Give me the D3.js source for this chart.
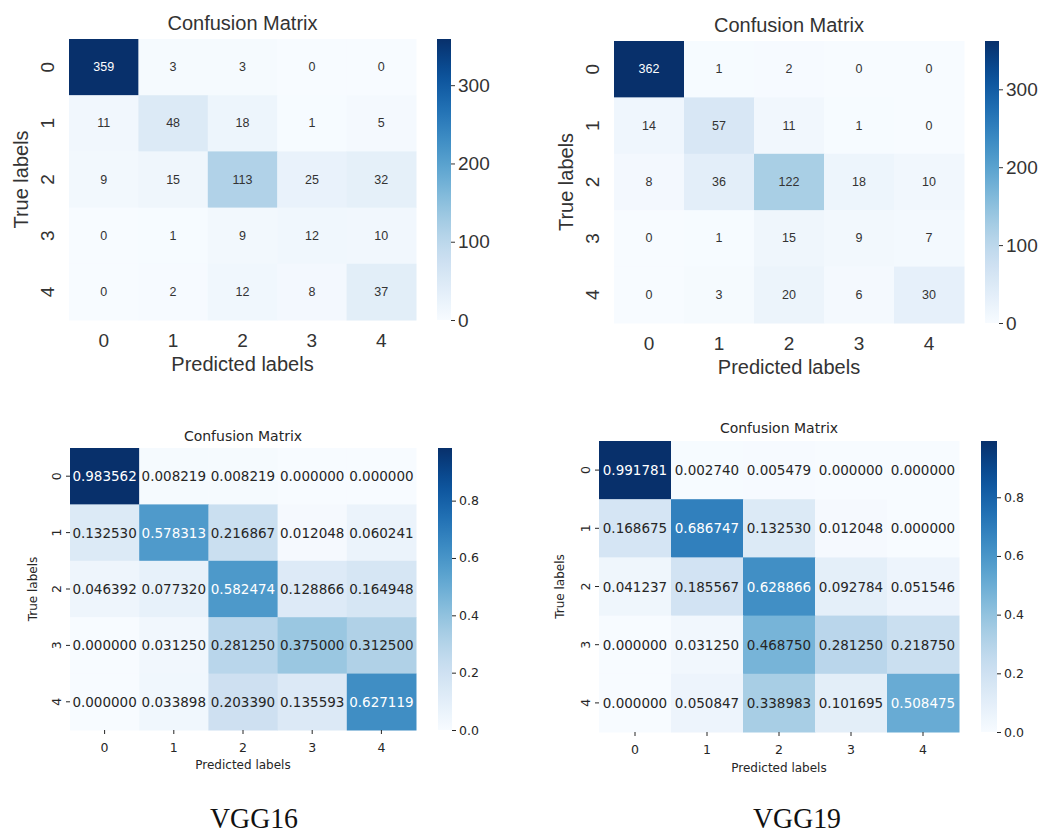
<!DOCTYPE html>
<html>
<head>
<meta charset="utf-8">
<script src="https://cdn.jsdelivr.net/npm/d3@7"></script>
<style>
  body { margin: 0; background: #fff; }
  svg { display: block; }
</style>
</head>
<body>
<div id="chart"></div>
<script>
// Data
const classLabels = ['0', '1', '2', '3', '4'];

const vgg16Counts = [
  [359, 3, 3, 0, 0],
  [11, 48, 18, 1, 5],
  [9, 15, 113, 25, 32],
  [0, 1, 9, 12, 10],
  [0, 2, 12, 8, 37]
];

const vgg19Counts = [
  [362, 1, 2, 0, 0],
  [14, 57, 11, 1, 0],
  [8, 36, 122, 18, 10],
  [0, 1, 15, 9, 7],
  [0, 3, 20, 6, 30]
];

const vgg16Norm = [
  [0.983562, 0.008219, 0.008219, 0.000000, 0.000000],
  [0.132530, 0.578313, 0.216867, 0.012048, 0.060241],
  [0.046392, 0.077320, 0.582474, 0.128866, 0.164948],
  [0.000000, 0.031250, 0.281250, 0.375000, 0.312500],
  [0.000000, 0.033898, 0.203390, 0.135593, 0.627119]
];

const vgg19Norm = [
  [0.991781, 0.002740, 0.005479, 0.000000, 0.000000],
  [0.168675, 0.686747, 0.132530, 0.012048, 0.000000],
  [0.041237, 0.185567, 0.628866, 0.092784, 0.051546],
  [0.000000, 0.031250, 0.468750, 0.281250, 0.218750],
  [0.000000, 0.050847, 0.338983, 0.101695, 0.508475]
];

const countTicks = [0, 100, 200, 300];
const normTicks = [0.0, 0.2, 0.4, 0.6, 0.8];
const captions = ['VGG16', 'VGG19'];

// Layout / style for each panel
const countStyle = {
  font: 'Liberation Sans, Arial, sans-serif',
  textColor: '#333',
  titleSize: 20, labelSize: 20, tickSize: 19, cbTickSize: 19, annotSize: 12.5,
  showAxisTicks: false, fmt: d3.format('d'), cbFmt: d3.format('d')
};
const normStyle = {
  font: 'DejaVu Sans, sans-serif',
  textColor: '#262626',
  titleSize: 14, labelSize: 12, tickSize: 12.5, cbTickSize: 12.5, annotSize: 13.5,
  showAxisTicks: true, fmt: d3.format('.6f'), cbFmt: d3.format('.1f')
};

const panels = [
  { id: 'p1', data: vgg16Counts, ticks: countTicks, style: countStyle,
    x0: 69, x1: 416, y0: 39, y1: 320, cbX: 437, cbW: 14,
    titleY: 30, yTickX: 47, yLabelX: 28, xTickY: 347, xLabelY: 371 },
  { id: 'p2', data: vgg19Counts, ticks: countTicks, style: countStyle,
    x0: 614, x1: 964, y0: 41, y1: 323, cbX: 985, cbW: 14,
    titleY: 32, yTickX: 592, yLabelX: 573, xTickY: 350, xLabelY: 374 },
  { id: 'p3', data: vgg16Norm, ticks: normTicks, style: normStyle,
    x0: 70, x1: 416, y0: 448, y1: 730, cbX: 438, cbW: 14,
    titleY: 441, yTickX: 56, yLabelX: 37, xTickY: 752, xLabelY: 769 },
  { id: 'p4', data: vgg19Norm, ticks: normTicks, style: normStyle,
    x0: 599, x1: 959, y0: 441, y1: 732, cbX: 981, cbW: 16,
    titleY: 433, yTickX: 585, yLabelX: 564, xTickY: 754, xLabelY: 772 }
];

const width = 1045, height = 834;

const svg = d3.select('#chart')
  .append('svg')
  .attr('width', width)
  .attr('height', height);

// relative luminance, used like seaborn to pick annotation colour
function luminance(c) {
  const rgb = d3.rgb(c);
  const lin = v => {
    v = v / 255;
    return v <= 0.03928 ? v / 12.92 : Math.pow((v + 0.055) / 1.055, 2.4);
  };
  return 0.2126 * lin(rgb.r) + 0.7152 * lin(rgb.g) + 0.0722 * lin(rgb.b);
}

function drawPanel(p) {
  const st = p.style;
  const g = svg.append('g').attr('class', 'panel ' + p.id);
  const vmax = d3.max(p.data.flat());

  const x = d3.scaleBand().domain(classLabels).range([p.x0, p.x1]);
  const y = d3.scaleBand().domain(classLabels).range([p.y0, p.y1]);
  const color = d3.scaleSequential(d3.interpolateBlues).domain([0, vmax]);

  const cells = p.data.flatMap((row, i) =>
    row.map((v, j) => ({ row: classLabels[i], col: classLabels[j], value: v })));

  // Cells
  g.selectAll('rect.cell')
    .data(cells)
    .enter()
    .append('rect')
    .attr('class', 'cell')
    .attr('x', d => x(d.col))
    .attr('y', d => y(d.row))
    .attr('width', x.bandwidth() + 0.5)
    .attr('height', y.bandwidth() + 0.5)
    .attr('fill', d => color(d.value));

  // Annotations
  g.selectAll('text.annot')
    .data(cells)
    .enter()
    .append('text')
    .attr('class', 'annot')
    .attr('x', d => x(d.col) + x.bandwidth() / 2)
    .attr('y', d => y(d.row) + y.bandwidth() / 2)
    .attr('text-anchor', 'middle')
    .attr('dominant-baseline', 'central')
    .style('font-family', st.font)
    .style('font-size', st.annotSize + 'px')
    .attr('fill', d => luminance(color(d.value)) > 0.408 ? st.textColor : '#ffffff')
    .text(d => st.fmt(d.value));

  // Title
  g.append('text')
    .attr('x', (p.x0 + p.x1) / 2)
    .attr('y', p.titleY)
    .attr('text-anchor', 'middle')
    .style('font-family', st.font)
    .style('font-size', st.titleSize + 'px')
    .attr('fill', st.textColor)
    .text('Confusion Matrix');

  // X tick labels
  g.selectAll('text.xtick')
    .data(classLabels)
    .enter()
    .append('text')
    .attr('class', 'xtick')
    .attr('x', d => x(d) + x.bandwidth() / 2)
    .attr('y', p.xTickY)
    .attr('text-anchor', 'middle')
    .style('font-family', st.font)
    .style('font-size', st.tickSize + 'px')
    .attr('fill', st.textColor)
    .text(d => d);

  // Y tick labels (rotated)
  g.selectAll('text.ytick')
    .data(classLabels)
    .enter()
    .append('text')
    .attr('class', 'ytick')
    .attr('transform', d => `translate(${p.yTickX},${y(d) + y.bandwidth() / 2}) rotate(-90)`)
    .attr('text-anchor', 'middle')
    .attr('dominant-baseline', 'central')
    .style('font-family', st.font)
    .style('font-size', st.tickSize + 'px')
    .attr('fill', st.textColor)
    .text(d => d);

  if (st.showAxisTicks) {
    g.selectAll('line.xt')
      .data(classLabels)
      .enter()
      .append('line')
      .attr('x1', d => x(d) + x.bandwidth() / 2)
      .attr('x2', d => x(d) + x.bandwidth() / 2)
      .attr('y1', p.y1)
      .attr('y2', p.y1 + 4)
      .attr('stroke', st.textColor)
      .attr('stroke-width', 1);
    g.selectAll('line.yt')
      .data(classLabels)
      .enter()
      .append('line')
      .attr('x1', p.x0 - 4)
      .attr('x2', p.x0)
      .attr('y1', d => y(d) + y.bandwidth() / 2)
      .attr('y2', d => y(d) + y.bandwidth() / 2)
      .attr('stroke', st.textColor)
      .attr('stroke-width', 1);
  }

  // Axis labels
  g.append('text')
    .attr('x', (p.x0 + p.x1) / 2)
    .attr('y', p.xLabelY)
    .attr('text-anchor', 'middle')
    .style('font-family', st.font)
    .style('font-size', st.labelSize + 'px')
    .attr('fill', st.textColor)
    .text('Predicted labels');

  g.append('text')
    .attr('transform', `translate(${p.yLabelX},${(p.y0 + p.y1) / 2}) rotate(-90)`)
    .attr('text-anchor', 'middle')
    .style('font-family', st.font)
    .style('font-size', st.labelSize + 'px')
    .attr('fill', st.textColor)
    .text('True labels');

  // Colorbar
  const cbScale = d3.scaleLinear().domain([0, vmax]).range([p.y1, p.y0]);
  const gradId = 'grad-' + p.id;
  const grad = svg.append('defs').append('linearGradient')
    .attr('id', gradId)
    .attr('x1', 0).attr('y1', 1).attr('x2', 0).attr('y2', 0);
  d3.range(0, 1.0001, 0.05).forEach(t => {
    grad.append('stop')
      .attr('offset', t)
      .attr('stop-color', d3.interpolateBlues(t));
  });

  g.append('rect')
    .attr('x', p.cbX)
    .attr('y', p.y0)
    .attr('width', p.cbW)
    .attr('height', p.y1 - p.y0)
    .attr('fill', `url(#${gradId})`);

  const cbAxis = d3.axisRight(cbScale)
    .tickValues(p.ticks)
    .tickSize(4)
    .tickPadding(3)
    .tickFormat(st.cbFmt);

  const cbG = g.append('g')
    .attr('transform', `translate(${p.cbX + p.cbW},0)`)
    .call(cbAxis);
  cbG.select('.domain').remove();
  cbG.selectAll('line').attr('stroke', st.textColor);
  cbG.selectAll('text')
    .style('font-family', st.font)
    .style('font-size', st.cbTickSize + 'px')
    .attr('fill', st.textColor);
}

panels.forEach(drawPanel);

// Captions under the bottom row
svg.selectAll('text.caption')
  .data(captions)
  .enter()
  .append('text')
  .attr('class', 'caption')
  .attr('x', (d, i) => [254, 797][i])
  .attr('y', 828)
  .attr('text-anchor', 'middle')
  .attr('textLength', 88)
  .attr('lengthAdjust', 'spacingAndGlyphs')
  .style('font-family', 'Liberation Serif, Times New Roman, serif')
  .style('font-size', '30px')
  .attr('fill', '#111')
  .text(d => d);
</script>
</body>
</html>
